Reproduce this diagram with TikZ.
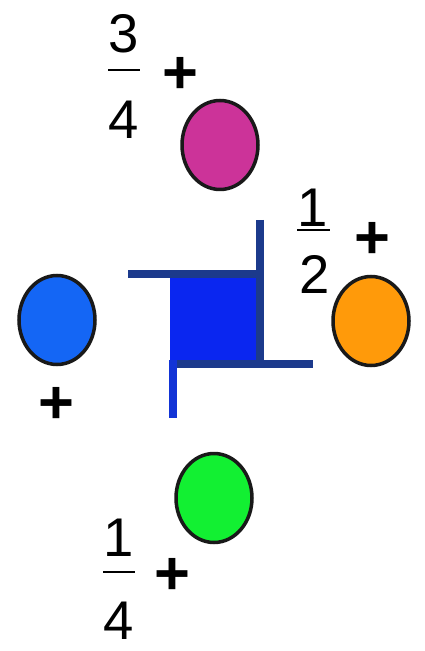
\documentclass[tikz,border=0pt]{standalone}
\usepackage{fontspec}
\setmainfont{Liberation Sans}
\usetikzlibrary{shapes.geometric}

\definecolor{dotpink}{HTML}{CC3399}
\definecolor{dotorange}{HTML}{FF9A0A}
\definecolor{dotblue}{HTML}{1466F5}
\definecolor{dotgreen}{HTML}{12F032}
\definecolor{boxblue}{HTML}{0A26F0}
\definecolor{wirenavy}{HTML}{1C3A8C}
\definecolor{wireblue}{HTML}{1234D6}

\begin{document}
\begin{tikzpicture}[x=0.02cm, y=-0.02cm,
  dot/.style={ellipse, draw=black!90, line width=2pt, minimum width=1.52cm,
    minimum height=1.78cm, inner sep=0pt},
  num/.style={font=\fontsize{31}{31}\selectfont, inner sep=0pt},
  plus/.style={font=\fontsize{35}{35}\selectfont\bfseries, inner sep=0pt},
  bar/.style={line width=1.1pt},
  wire/.style={line width=4.5pt, draw=wirenavy},
]
\useasboundingbox (0,0) rectangle (425,651);
% the four dots
\node[dot, fill=dotpink] (pink) at (220,145) {};
\node[dot, fill=dotorange] (orange) at (371,321) {};
\node[dot, fill=dotblue] (blue) at (57,320) {};
\node[dot, fill=dotgreen] (green) at (214,498) {};
% centre square with its four arms
\fill[boxblue] (170,270) rectangle (263,367);
\draw[wire] (128,274) -- (263,274);
\draw[wire] (260,220) -- (260,368);
\draw[wire] (170,364) -- (313,364);
\draw[wire, draw=wireblue] (173,360) -- (173,418);
% fractions
\node[num] (n34) at (124,34) {3};
\node[num] (d34) at (124,120) {4};
\draw[bar] (108,70) -- (140,70);
\node[num] (n12) at (313,208) {1};
\node[num] (d12) at (315,274) {2};
\draw[bar] (297,230) -- (330,230);
\node[num] (n14) at (119,538) {1};
\node[num] (d14) at (119,621) {4};
\draw[bar] (103,572) -- (135,572);
% plus signs
\node[plus] (p34) at (180,75) {+};
\node[plus] (p12) at (372,240) {+};
\node[plus] (pblue) at (56,405) {+};
\node[plus] (p14) at (172,576) {+};
\end{tikzpicture}
\end{document}
